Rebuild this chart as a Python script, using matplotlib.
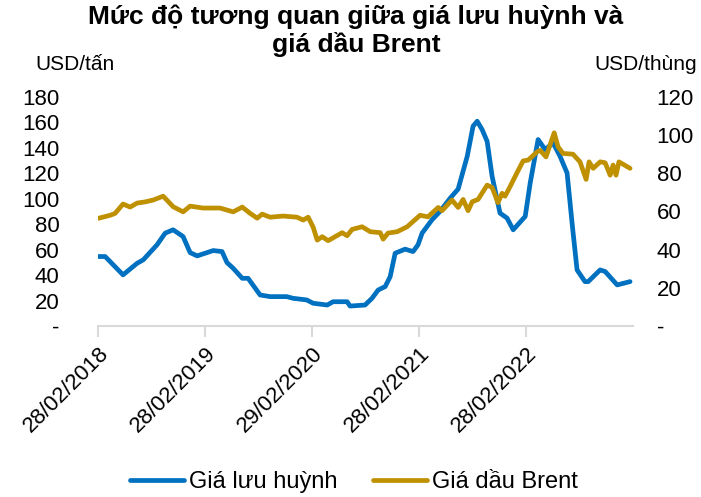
import numpy as np
import pandas as pd
import matplotlib
matplotlib.use("Agg")
import matplotlib.pyplot as plt
import matplotlib.dates as mdates
from matplotlib.ticker import FuncFormatter

plt.rcParams['font.family'] = ['Liberation Sans', 'DejaVu Sans']

# sulfur price, USD/ton (left axis)
sulfur_dates = ['2018-02-28', '2018-03-24', '2018-05-24', '2018-07-11', '2018-08-01',
                '2018-09-17', '2018-10-15', '2018-11-11', '2018-12-15', '2019-01-08',
                '2019-02-01', '2019-03-28', '2019-04-27', '2019-05-14', '2019-06-04',
                '2019-07-05', '2019-07-25', '2019-09-04', '2019-10-08', '2019-12-04',
                '2019-12-25', '2020-02-10', '2020-03-03', '2020-04-20', '2020-05-10',
                '2020-06-27', '2020-07-07', '2020-08-27', '2020-09-20', '2020-10-11',
                '2020-11-04', '2020-11-21', '2020-12-08', '2021-01-11', '2021-02-07',
                '2021-02-24', '2021-03-10', '2021-04-13', '2021-05-10', '2021-06-14',
                '2021-07-11', '2021-08-11', '2021-08-31', '2021-09-14', '2021-10-01',
                '2021-10-18', '2021-11-04', '2021-12-01', '2021-12-25', '2022-01-15',
                '2022-02-25', '2022-03-14', '2022-04-10', '2022-05-04', '2022-05-31',
                '2022-06-24', '2022-07-18', '2022-08-04', '2022-08-21', '2022-09-17',
                '2022-09-28', '2022-11-08', '2022-11-25', '2023-01-05', '2023-02-18']
sulfur = [54.6, 54.6, 40.2, 49.3, 52, 63.8, 73, 75.6, 70.3, 57.7,
          55.1, 59.3, 58.5, 49.8, 45.4, 37.5, 37.5, 24.4, 23.1, 23.1,
          21.8, 20.5, 17.9, 16.5, 19.1, 19.1, 15.7, 16.5, 21.8, 28.3,
          31, 38.8, 57.2, 60.4, 58.5, 63.8, 73, 83.5, 90, 100.5,
          107.6, 133.3, 157, 160.9, 154.3, 145.1, 117.6, 88.7, 84.8, 75.6,
          86.1, 112.4, 146.5, 138.6, 143.9, 133.3, 120.2, 80.9, 44.1, 34.9,
          34.9, 44.1, 42.8, 32.3, 34.9]

# Brent oil price, USD/barrel (right axis)
brent_dates = ['2018-02-28', '2018-04-10', '2018-04-27', '2018-05-24', '2018-06-17',
               '2018-07-11', '2018-08-07', '2018-09-04', '2018-10-08', '2018-11-11',
               '2018-12-15', '2019-01-08', '2019-02-21', '2019-04-20', '2019-06-04',
               '2019-07-05', '2019-08-01', '2019-08-25', '2019-09-11', '2019-10-08',
               '2019-11-22', '2020-01-08', '2020-01-29', '2020-02-15', '2020-03-03',
               '2020-03-17', '2020-04-03', '2020-04-23', '2020-06-10', '2020-06-27',
               '2020-07-14', '2020-08-17', '2020-09-14', '2020-10-18', '2020-10-28',
               '2020-11-14', '2020-12-15', '2021-01-18', '2021-03-03', '2021-03-30',
               '2021-05-04', '2021-05-17', '2021-06-20', '2021-07-11', '2021-07-28',
               '2021-08-14', '2021-08-28', '2021-09-17', '2021-10-18', '2021-11-04',
               '2021-11-24', '2021-12-08', '2021-12-18', '2022-01-04', '2022-01-28',
               '2022-02-18', '2022-03-07', '2022-04-07', '2022-04-17', '2022-05-07',
               '2022-06-04', '2022-06-17', '2022-07-04', '2022-08-07', '2022-08-31',
               '2022-09-21', '2022-10-01', '2022-10-15', '2022-11-08', '2022-11-25',
               '2022-12-12', '2022-12-22', '2023-01-01', '2023-01-11', '2023-02-18']
brent = [56.4, 58, 59, 63.9, 62.3, 64.4, 65, 66, 68, 62.5,
         59.8, 62.8, 61.8, 61.8, 59.8, 62.3, 59, 56.5, 58.6, 57,
         57.6, 57, 55.5, 57, 51.8, 45, 46.8, 44.7, 48.9, 47.3,
         50.6, 52, 49.4, 48.9, 45.5, 48.7, 49.4, 52, 58, 57.2,
         62.1, 60.4, 66, 62.1, 66.3, 60.4, 65.1, 66.3, 73.8, 72.6,
         64.6, 69.5, 68, 72.9, 80.3, 86.5, 86.9, 91.3, 92, 88.6,
         101.2, 93.9, 90.4, 90, 86, 76.8, 86, 82.6, 86, 85.5,
         79, 84.3, 79, 86, 82.6]

tick_dates = ['2018-02-28', '2019-02-28', '2020-02-29', '2021-02-28', '2022-02-28']

blue = '#0070c0'
gold = '#bf9000'

fig = plt.figure(figsize=(7.01, 4.97), dpi=100)
ax = fig.add_axes([0.140, 0.344, 0.763, 0.461])
ax2 = ax.twinx()

ax.plot(pd.to_datetime(sulfur_dates), sulfur, color=blue, lw=3.4,
        solid_capstyle='round', solid_joinstyle='round', label='Giá lưu huỳnh')
ax2.plot(pd.to_datetime(brent_dates), brent, color=gold, lw=3.4,
         solid_capstyle='round', solid_joinstyle='round', label='Giá dầu Brent')

ax.set_xlim(pd.Timestamp('2018-02-28'), pd.Timestamp('2023-02-28'))
ax.set_ylim(0, 180)
ax2.set_ylim(0, 120)
ax.set_yticks(np.arange(0, 181, 20))
ax2.set_yticks(np.arange(0, 121, 20))

dash = FuncFormatter(lambda v, p: '-' if v == 0 else f'{v:.0f}')
ax.yaxis.set_major_formatter(dash)
ax2.yaxis.set_major_formatter(dash)

ax.set_xticks(pd.to_datetime(tick_dates))
ax.xaxis.set_major_formatter(mdates.DateFormatter('%d/%m/%Y'))
for lbl in ax.get_xticklabels():
    lbl.set_rotation(45)
    lbl.set_ha('right')
    lbl.set_rotation_mode('anchor')

for a in (ax, ax2):
    for s in ['top', 'left', 'right', 'bottom']:
        a.spines[s].set_visible(False)
ax.spines['bottom'].set_visible(True)
ax.spines['bottom'].set_color('#d9d9d9')
ax.spines['bottom'].set_linewidth(1.5)

ax.tick_params(axis='x', colors='#d9d9d9', length=8, width=1.5, labelsize=16,
               labelcolor='black', pad=4)
ax.tick_params(axis='y', length=0, labelsize=16, pad=28)
ax2.tick_params(axis='y', length=0, labelsize=16, pad=17)

fig.text(0.05, 0.87, 'USD/tấn', fontsize=15, ha='left', va='center')
fig.text(0.995, 0.87, 'USD/thùng', fontsize=15, ha='right', va='center')

fig.suptitle('Mức độ tương quan giữa giá lưu huỳnh và\ngiá dầu Brent',
             fontsize=19, fontweight='bold', x=0.508, y=0.99, va='top',
             linespacing=1.15)

h1, l1 = ax.get_legend_handles_labels()
h2, l2 = ax2.get_legend_handles_labels()
fig.legend(h1 + h2, l1 + l2, loc='center', bbox_to_anchor=(0.505, 0.03),
           ncol=2, frameon=False, fontsize=17, handlelength=2.3,
           handletextpad=0.2, columnspacing=1.5)

fig.savefig('out.png', dpi=100)
